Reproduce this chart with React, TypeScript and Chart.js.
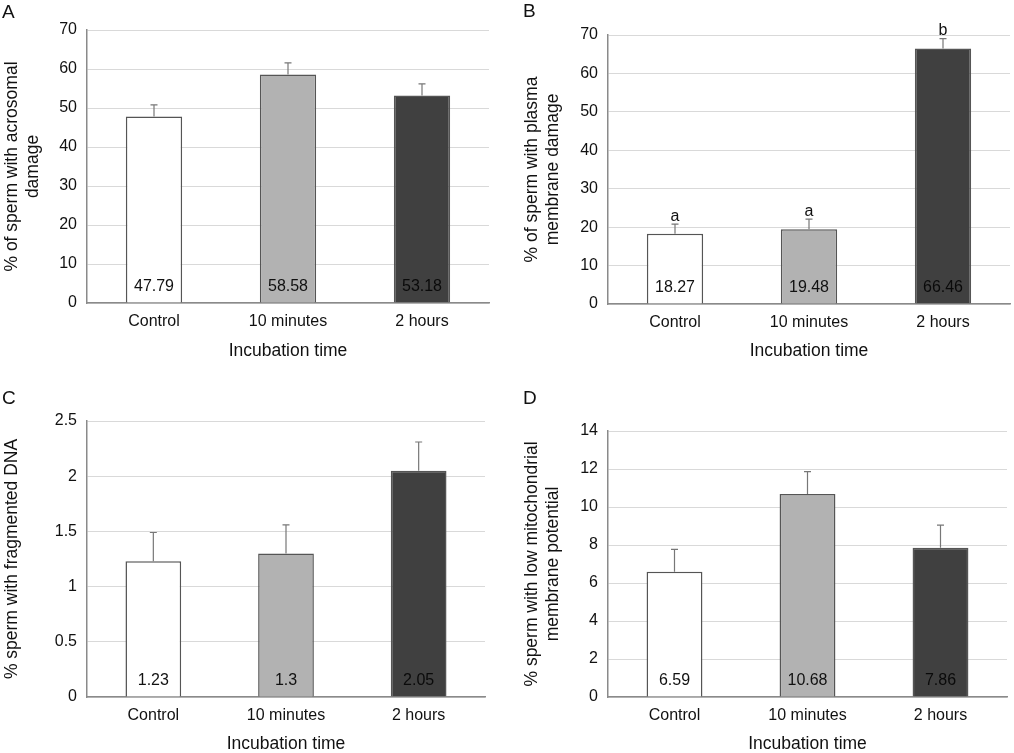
import React, { useEffect, useRef } from "react";
import { Chart, registerables } from "chart.js";

Chart.register(...registerables);

const FONT = "'Liberation Sans', Arial, sans-serif";

const categories = ["Control", "10 minutes", "2 hours"];

// A: acrosomal damage
const acrosomeValues = [47.79, 58.58, 53.18];
const acrosomeErrors = [3.0, 3.0, 3.0];

// B: plasma membrane damage
const membraneValues = [18.27, 19.48, 66.46];
const membraneErrors = [2.5, 2.6, 2.6];
const membraneLetters = ["a", "a", "b"];

// C: fragmented DNA
const dnaValues = [1.23, 1.3, 2.05];
const dnaErrors = [0.26, 0.26, 0.26];

// D: low mitochondrial membrane potential
const mitoValues = [6.59, 10.68, 7.86];
const mitoErrors = [1.18, 1.18, 1.19];

const barFills = ["#ffffff", "#b2b2b2", "#404040"];
const labelColors = ["#111111", "#111111", "#0a0a0a"];

type PanelProps = {
	letter: string;
	left: number;
	top: number;
	width: number;
	height: number;
	values: number[];
	errors: number[];
	letters?: string[];
	yTitle: string | string[];
	yMax: number;
	yStep: number;
	padTop: number;
	padRight: number;
	yWidth: number;
	xHeight: number;
	yTitlePad: number;
	xTitlePad: number;
	letterLeft: number;
	letterTop: number;
};

// error bars (plus side), value labels near the base, and significance letters
const makeExtras = (errors: number[], letters?: string[]) => ({
	id: "barExtras",
	afterDatasetsDraw(chart: Chart) {
		const { ctx } = chart;
		const yScale = chart.scales.y;
		const meta = chart.getDatasetMeta(0);
		const values = chart.data.datasets[0].data as number[];
		const zero = yScale.getPixelForValue(0);
		ctx.save();
		meta.data.forEach((bar: any, i: number) => {
			const base = yScale.getPixelForValue(values[i]);
			const top = yScale.getPixelForValue(values[i] + errors[i]);
			ctx.strokeStyle = "#777777";
			ctx.lineWidth = 1.2;
			ctx.beginPath();
			ctx.moveTo(bar.x, base);
			ctx.lineTo(bar.x, top);
			ctx.moveTo(bar.x - 3.5, top);
			ctx.lineTo(bar.x + 3.5, top);
			ctx.stroke();

			ctx.fillStyle = labelColors[i];
			ctx.font = `16px ${FONT}`;
			ctx.textAlign = "center";
			ctx.textBaseline = "middle";
			ctx.fillText(String(values[i]), bar.x, zero - 16);

			if (letters) {
				ctx.fillStyle = "#111111";
				ctx.font = `16px ${FONT}`;
				ctx.fillText(letters[i], bar.x, top - 8);
			}
		});
		ctx.restore();
	},
});

const Panel: React.FC<PanelProps> = (p) => {
	const chartRef = useRef<HTMLCanvasElement>(null);
	const chartInstanceRef = useRef<Chart>();

	useEffect(() => {
		if (chartRef.current) {
			if (chartInstanceRef.current) {
				chartInstanceRef.current.destroy();
			}

			chartInstanceRef.current = new Chart(chartRef.current, {
				type: "bar",
				data: {
					labels: categories,
					datasets: [
						{
							data: p.values,
							backgroundColor: barFills,
							borderColor: "#555555",
							borderWidth: 1.5,
							barPercentage: 0.42,
							categoryPercentage: 1,
						},
					],
				},
				options: {
					animation: false,
					responsive: false,
					layout: {
						padding: { top: p.padTop, right: p.padRight, left: 0, bottom: 0 },
					},
					plugins: {
						legend: { display: false },
						tooltip: { enabled: false },
					},
					scales: {
						x: {
							grid: { display: false, drawTicks: false },
							border: { color: "#8a8a8a", width: 1.5 },
							ticks: {
								color: "#111111",
								font: { family: FONT, size: 16 },
								padding: 9,
							},
							title: {
								display: true,
								text: "Incubation time",
								color: "#111111",
								font: { family: FONT, size: 17.5 },
								padding: { top: 0, bottom: p.xTitlePad },
							},
							afterFit: (scale: any) => {
								scale.height = p.xHeight;
							},
						},
						y: {
							min: 0,
							max: p.yMax,
							grid: { color: "#d9d9d9", drawTicks: false },
							border: { color: "#8a8a8a", width: 1.5 },
							ticks: {
								stepSize: p.yStep,
								color: "#111111",
								font: { family: FONT, size: 16 },
								padding: 10,
								callback: (value: any) => String(Number(value)),
							},
							title: {
								display: true,
								text: p.yTitle,
								color: "#111111",
								font: { family: FONT, size: 17.5 },
								padding: { top: p.yTitlePad, bottom: 0 },
							},
							afterFit: (scale: any) => {
								scale.width = p.yWidth;
							},
						},
					},
				},
				plugins: [makeExtras(p.errors, p.letters)],
			});
		}

		return () => {
			if (chartInstanceRef.current) {
				chartInstanceRef.current.destroy();
			}
		};
	}, []);

	return (
		<div
			style={{
				position: "absolute",
				left: p.left,
				top: p.top,
				width: p.width,
				height: p.height,
			}}
		>
			<canvas ref={chartRef} width={p.width} height={p.height} />
			<div
				style={{
					position: "absolute",
					left: p.letterLeft,
					top: p.letterTop,
					fontFamily: FONT,
					fontSize: 19,
					lineHeight: "19px",
					color: "#111111",
				}}
			>
				{p.letter}
			</div>
		</div>
	);
};

const App: React.FC = () => {
	return (
		<div
			style={{
				position: "absolute",
				left: 0,
				top: 0,
				width: 1014,
				height: 753,
				overflow: "hidden",
				background: "white",
			}}
		>
			<Panel
				letter="A"
				left={0}
				top={0}
				width={507}
				height={376}
				values={acrosomeValues}
				errors={acrosomeErrors}
				yTitle={["% of sperm with acrosomal", "damage"]}
				yMax={70}
				yStep={10}
				padTop={30}
				padRight={18}
				yWidth={87}
				xHeight={73}
				yTitlePad={2}
				xTitlePad={14.5}
				letterLeft={2}
				letterTop={1.5}
			/>
			<Panel
				letter="B"
				left={507}
				top={0}
				width={507}
				height={376}
				values={membraneValues}
				errors={membraneErrors}
				letters={membraneLetters}
				yTitle={["% of sperm with plasma", "membrane damage"]}
				yMax={70}
				yStep={10}
				padTop={35}
				padRight={4}
				yWidth={101}
				xHeight={72}
				yTitlePad={15}
				xTitlePad={14.5}
				letterLeft={16}
				letterTop={1}
			/>
			<Panel
				letter="C"
				left={0}
				top={376}
				width={507}
				height={390}
				values={dnaValues}
				errors={dnaErrors}
				yTitle="% sperm with fragmented DNA"
				yMax={2.5}
				yStep={0.5}
				padTop={45}
				padRight={22}
				yWidth={87}
				xHeight={69}
				yTitlePad={2}
				xTitlePad={11}
				letterLeft={2}
				letterTop={11.5}
			/>
			<Panel
				letter="D"
				left={507}
				top={376}
				width={507}
				height={390}
				values={mitoValues}
				errors={mitoErrors}
				yTitle={["% sperm with low mitochondrial", "membrane potential"]}
				yMax={14}
				yStep={2}
				padTop={55}
				padRight={7}
				yWidth={101}
				xHeight={69}
				yTitlePad={15}
				xTitlePad={11}
				letterLeft={16}
				letterTop={11.5}
			/>
		</div>
	);
};

export default App;
